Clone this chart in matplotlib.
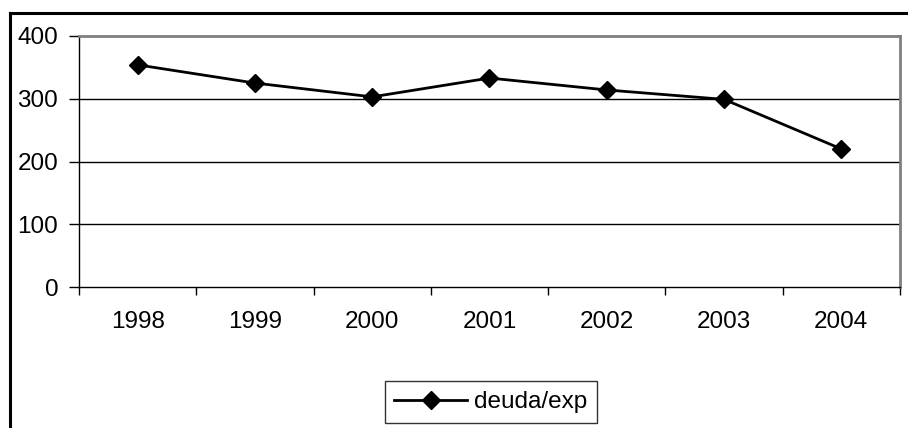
import matplotlib
matplotlib.use("Agg")
import matplotlib.pyplot as plt
from matplotlib.lines import Line2D
import numpy as np

years = ["1998", "1999", "2000", "2001", "2002", "2003", "2004"]
deuda_exp = [354, 325, 303, 333, 314, 299, 220]

plt.rcParams['font.family'] = ['Liberation Sans', 'DejaVu Sans']

W, H = 908, 428
fig = plt.figure(figsize=(W / 100, H / 100), dpi=100)
ax = fig.add_axes([79 / W, 1 - 287 / H, (900 - 79) / W, (287 - 36) / H])

x = np.arange(len(years))
ax.plot(x, deuda_exp, color='black', lw=2, marker='D', ms=9,
        label='deuda/exp', zorder=3)

ax.set_xlim(-0.5, len(years) - 0.5)
ax.set_ylim(0, 400)
ax.set_yticks([0, 100, 200, 300, 400])
for v in [100, 200, 300]:
    ax.axhline(v, color='black', lw=1, zorder=1)

ax.set_xticks(x)
ax.set_xticklabels(years)
ax.set_xticks(np.arange(-0.5, len(years), 1), minor=True)
ax.tick_params(axis='x', which='major', length=0, pad=17, labelsize=17.5)
ax.tick_params(axis='x', which='minor', length=6, width=1, direction='out')
ax.tick_params(axis='y', length=7, width=1, direction='out', pad=8, labelsize=17.5)

ax.spines['top'].set_color('#808080')
ax.spines['right'].set_color('#808080')
ax.spines['top'].set_linewidth(2)
ax.spines['right'].set_linewidth(2)
ax.spines['left'].set_linewidth(1)
ax.spines['bottom'].set_linewidth(1)

leg = fig.legend(loc='center', bbox_to_anchor=(491 / W, 1 - 402 / H),
                 frameon=True, fancybox=False, fontsize=17.5,
                 handlelength=3.0, handletextpad=0.3, borderpad=0.4,
                 edgecolor='black')
leg.get_frame().set_linewidth(1)

# chart area border (left and top visible)
fig.add_artist(Line2D([10 / W, 10 / W], [0, 1 - 13 / H], color='black', lw=2.2,
                      transform=fig.transFigure))
fig.add_artist(Line2D([10 / W, 1], [1 - 13 / H, 1 - 13 / H], color='black', lw=2.2,
                      transform=fig.transFigure))

fig.savefig('out.png', dpi=100)
